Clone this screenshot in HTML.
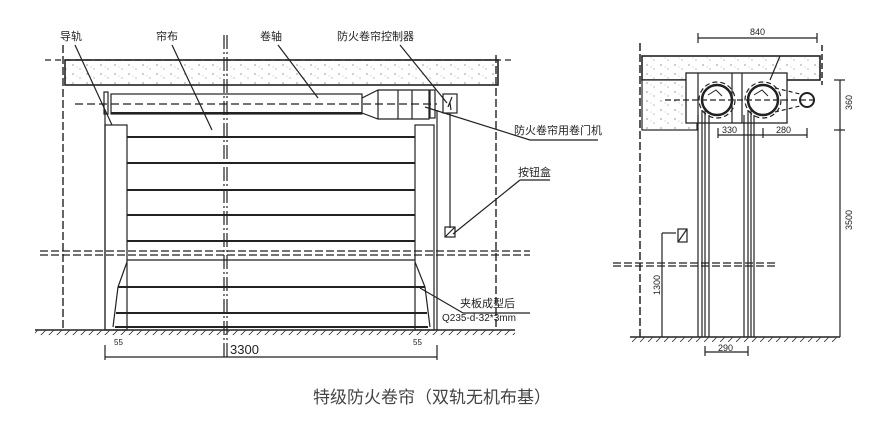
<!DOCTYPE html>
<html><head><meta charset="utf-8"><style>
html,body{margin:0;padding:0;background:#fff;}
svg{display:block;}
text{font-family:"Liberation Sans","Noto Sans CJK SC",sans-serif;fill:#222;}
</style></head><body>
<svg width="877" height="432" viewBox="0 0 877 432" xmlns="http://www.w3.org/2000/svg">
<defs>
<pattern id="dots" width="14" height="9" patternUnits="userSpaceOnUse">
<rect width="14" height="9" fill="#fff"/>
<circle cx="3" cy="2" r="0.6" fill="#555"/><circle cx="10" cy="6" r="0.5" fill="#555"/><circle cx="7" cy="4" r="0.4" fill="#777"/>
</pattern>
<pattern id="hatch" width="8" height="6" patternUnits="userSpaceOnUse">
<line x1="0" y1="6" x2="6" y2="0" stroke="#333" stroke-width="0.8"/>
</pattern>
</defs>
<g stroke="#222" fill="none" stroke-width="1.2">
<!-- LEFT VIEW -->
<rect x="65" y="60" width="433" height="25" fill="url(#dots)" stroke-width="1.6"/>
<line x1="45" y1="60" x2="515" y2="60" stroke-dasharray="6,4"/>
<line x1="63" y1="45" x2="63" y2="330" stroke-dasharray="8,3" stroke-width="1.4"/>
<line x1="496" y1="55" x2="496" y2="330" stroke-dasharray="8,3" stroke-width="1.4"/>
<line x1="224" y1="35" x2="224" y2="360" stroke-dasharray="14,3,2,3"/>
<line x1="227" y1="35" x2="227" y2="360" stroke-dasharray="14,3,2,3"/>
<!-- roller -->
<rect x="111" y="94" width="251" height="20"/>
<line x1="111" y1="113" x2="362" y2="113" stroke-width="2"/>
<path d="M362 98 L378 90 L429 90 L429 119 L378 119 L362 113 Z" fill="#fff"/>
<line x1="378" y1="90" x2="378" y2="119"/><line x1="398" y1="90" x2="398" y2="119"/><line x1="412" y1="90" x2="412" y2="119"/>
<line x1="75" y1="104" x2="437" y2="104" stroke-dasharray="8,4"/>
<rect x="104" y="92" width="4" height="22"/><rect x="430" y="90" width="5" height="28"/>
<rect x="443" y="94" width="14" height="19"/>
<path d="M452 97 L448 107 M450 103 L451 110" />
<line x1="450" y1="113" x2="450" y2="228"/>
<rect x="445" y="227" width="10" height="10"/><line x1="445" y1="237" x2="455" y2="227"/>
<!-- guides -->
<line x1="105" y1="110" x2="105" y2="330"/>
<rect x="105" y="125" width="22" height="205"/>
<rect x="415" y="125" width="19" height="205"/>
<line x1="437" y1="110" x2="437" y2="330"/>
<!-- slats -->
<g stroke-width="2">
<line x1="127" y1="137" x2="415" y2="137"/><line x1="127" y1="163" x2="415" y2="163"/>
<line x1="127" y1="190" x2="415" y2="190"/><line x1="127" y1="215" x2="415" y2="215"/>
<line x1="127" y1="241" x2="415" y2="241"/><line x1="127" y1="260" x2="415" y2="260" stroke-width="1.2"/>
<line x1="118" y1="287" x2="425" y2="287"/><line x1="116" y1="313" x2="427" y2="313"/>
<line x1="115" y1="327" x2="428" y2="327"/>
</g>
<path d="M127 262 L118 287 L113 327"/><path d="M415 262 L425 287 L430 327"/>
<line x1="40" y1="251" x2="530" y2="251" stroke-dasharray="8,3"/>
<line x1="40" y1="255" x2="530" y2="255" stroke-dasharray="8,3"/>
<!-- ground -->
<line x1="35" y1="330" x2="515" y2="330" stroke-width="1.5"/>
<rect x="35" y="330" width="480" height="5" fill="url(#hatch)" stroke="none"/>
<!-- dims -->
<line x1="105" y1="357" x2="437" y2="357"/><line x1="105" y1="345" x2="105" y2="360"/><line x1="437" y1="345" x2="437" y2="360"/>
<!-- leaders -->
<line x1="75" y1="45" x2="112" y2="125"/>
<line x1="172" y1="45" x2="212" y2="130"/>
<line x1="278" y1="45" x2="318" y2="98"/>
<line x1="400" y1="45" x2="447" y2="103"/>
<line x1="425" y1="107" x2="530" y2="140"/><line x1="530" y1="140" x2="598" y2="140"/>
<line x1="453" y1="234" x2="520" y2="180"/><line x1="520" y1="180" x2="550" y2="180"/>
<line x1="420" y1="288" x2="463" y2="313"/><line x1="463" y1="313" x2="530" y2="313"/>
<!-- RIGHT VIEW -->
<rect x="642" y="56" width="178" height="24" fill="url(#dots)" stroke-width="1.6"/>
<rect x="642" y="80" width="55" height="50" fill="url(#dots)"/>
<line x1="640" y1="43" x2="640" y2="337" stroke-dasharray="8,3" stroke-width="1.5"/>
<line x1="822" y1="45" x2="822" y2="85" stroke-dasharray="6,3" stroke-width="1.5"/>
<rect x="686" y="73" width="101" height="50" fill="#fff" stroke-width="1.3"/>
<line x1="698" y1="73" x2="698" y2="123"/><line x1="732" y1="73" x2="732" y2="123"/><line x1="742" y1="73" x2="742" y2="123"/>
<line x1="665" y1="100" x2="815" y2="100" stroke-dasharray="6,3"/>
<circle cx="717" cy="100" r="15" stroke-width="2.5"/><circle cx="717" cy="100" r="18" stroke-dasharray="5,3"/>
<circle cx="763" cy="100" r="15" stroke-width="2.5"/><circle cx="763" cy="100" r="18" stroke-dasharray="5,3"/>
<path d="M708 95 L716 90 L722 96 M754 95 L762 90 L768 96" stroke-width="1"/>
<circle cx="807" cy="100" r="7" stroke-width="2"/>
<path d="M775 88 L800 94 M775 112 L800 106" stroke-dasharray="4,3"/>
<line x1="770" y1="80" x2="780" y2="56"/>
<g stroke-width="1.2">
<line x1="698" y1="115" x2="698" y2="337"/><line x1="702" y1="110" x2="702" y2="337"/><line x1="705" y1="110" x2="705" y2="337"/><line x1="709" y1="115" x2="709" y2="337"/>
<line x1="744" y1="115" x2="744" y2="337"/><line x1="748" y1="110" x2="748" y2="337"/><line x1="751" y1="110" x2="751" y2="337"/><line x1="754" y1="115" x2="754" y2="337"/>
</g>
<line x1="613" y1="263" x2="777" y2="263" stroke-dasharray="8,3"/>
<line x1="613" y1="266" x2="777" y2="266" stroke-dasharray="8,3"/>
<line x1="630" y1="337" x2="840" y2="337" stroke-width="1.5"/>
<rect x="630" y="337" width="210" height="5" fill="url(#hatch)" stroke="none"/>
<rect x="678" y="229" width="9" height="13"/><line x1="678" y1="242" x2="687" y2="229"/>
<line x1="662" y1="233" x2="662" y2="337"/><line x1="662" y1="233" x2="676" y2="233"/>
<!-- right dims -->
<line x1="698" y1="38" x2="817" y2="38"/><line x1="698" y1="33" x2="698" y2="43"/><line x1="817" y1="33" x2="817" y2="43"/>
<line x1="718" y1="135" x2="807" y2="135"/><line x1="718" y1="128" x2="718" y2="138"/><line x1="763" y1="128" x2="763" y2="138"/><line x1="807" y1="128" x2="807" y2="138"/>
<line x1="840" y1="80" x2="840" y2="337"/><line x1="834" y1="80" x2="845" y2="80"/><line x1="834" y1="130" x2="845" y2="130"/>
<line x1="705" y1="352" x2="748" y2="352"/><line x1="705" y1="346" x2="705" y2="356"/><line x1="748" y1="346" x2="748" y2="356"/>
</g>
<g font-size="11">
<text x="60" y="40">导轨</text>
<text x="156" y="40">帘布</text>
<text x="260" y="40">卷轴</text>
<text x="337" y="40">防火卷帘控制器</text>
<text x="514" y="134">防火卷帘用卷门机</text>
<text x="518" y="176">按钮盒</text>
<text x="460" y="307">夹板成型后</text>
<text x="442" y="321" font-size="10">Q235-d-32*3mm</text>
<text x="230" y="354" font-size="13">3300</text>
<text x="114" y="345" font-size="8">55</text>
<text x="413" y="345" font-size="8">55</text>
<text x="750" y="35" font-size="9">840</text>
<text x="722" y="133" font-size="9">330</text>
<text x="776" y="133" font-size="9">280</text>
<text x="718" y="351" font-size="9">290</text>
<text transform="translate(852,110) rotate(-90)" font-size="9">360</text>
<text transform="translate(852,230) rotate(-90)" font-size="9">3500</text>
<text transform="translate(660,295) rotate(-90)" font-size="9">1300</text>
</g>
<text x="313" y="403" font-size="17" style="fill:#444">特级防火卷帘（双轨无机布基）</text>
</svg>
</body></html>
